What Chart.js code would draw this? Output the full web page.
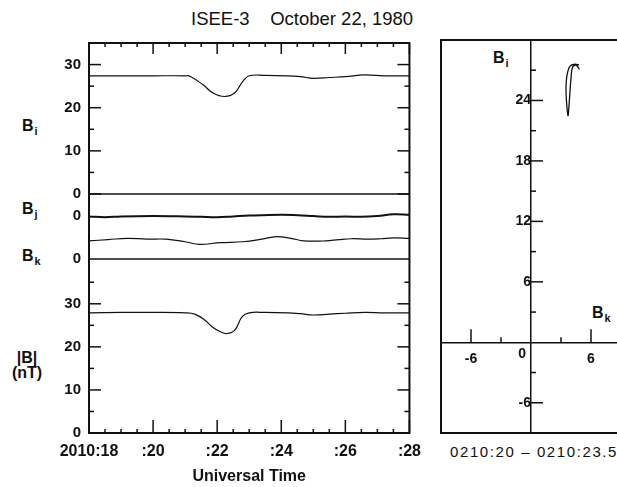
<!DOCTYPE html>
<html>
<head>
<meta charset="utf-8">
<script src="https://cdn.jsdelivr.net/npm/chart.js@4.4.0/dist/chart.umd.min.js"></script>
<style>
html, body { margin: 0; padding: 0; background: #fff; overflow: hidden; width: 617px; height: 487px; }
body { position: relative; font-family: "Liberation Sans", Arial, sans-serif; color: #111; }
canvas { position: absolute; top: 0; }
.lbl { position: absolute; line-height: 1; white-space: pre; color: #111; }
.b { font-weight: bold; font-size: 16px; }
.b sub { font-size: 11px; vertical-align: -4px; margin-left: 1px; }
</style>
</head>
<body>
<div class="lbl" style="left:191px;top:10px;font-size:18.5px;">ISEE-3    October 22, 1980</div>

<div class="lbl b" style="left:22px;top:118px;">B<sub>i</sub></div>
<div class="lbl b" style="left:22px;top:201px;">B<sub>j</sub></div>
<div class="lbl b" style="left:22px;top:248px;">B<sub>k</sub></div>
<div class="lbl b" style="left:0;width:54px;top:350px;text-align:center;line-height:15px;">|B|<br>(nT)</div>

<div class="lbl b" style="left:493px;top:50px;">B<sub>i</sub></div>
<div class="lbl b" style="left:592px;top:305px;">B<sub>k</sub></div>
<div class="lbl" style="left:450px;top:444px;font-size:15px;letter-spacing:1.6px;">0210:20 – 0210:23.5</div>

<canvas id="seriesChart" width="430" height="487" style="left:0"></canvas>
<canvas id="hodoChart" width="210" height="487" style="left:430px"></canvas>

<script>
// ---- time series, minutes after 2010 UT ----
const TIME_BI = [18, 19, 20, 21, 21.15, 21.56, 21.87, 22.23, 22.54, 22.8, 23.0, 23.5, 24.2, 24.6, 25.0, 25.5, 26.0, 26.6, 27.2, 28];
const BI      = [27.4, 27.4, 27.4, 27.4, 27.3, 25.3, 23.4, 22.6, 23.4, 26.1, 27.4, 27.5, 27.4, 27.2, 26.8, 27.0, 27.2, 27.6, 27.4, 27.4];

const TIME_BJ = [18, 18.5, 19, 20, 21, 21.5, 22, 22.5, 23, 24, 24.5, 25, 25.5, 26, 26.5, 27, 27.5, 28];
const BJ      = [-0.1, -0.3, -0.1, 0, -0.1, -0.2, -0.3, -0.1, 0.1, 0.3, 0.2, 0, -0.2, -0.1, -0.2, 0, 0.4, 0.3];

const TIME_BK = [18, 18.6, 19.2, 19.8, 20.4, 21.0, 21.45, 22.1, 22.8, 23.4, 23.85, 24.3, 24.7, 25.4, 25.8, 26.2, 26.7, 27.1, 27.5, 28];
const BK      = [4.2, 4.5, 4.8, 4.6, 4.6, 4.0, 3.4, 3.8, 4.0, 4.6, 5.2, 4.8, 4.2, 4.2, 4.5, 4.7, 4.6, 4.7, 4.9, 4.8];

const TIME_B = [18, 19, 20, 21, 21.3, 21.6, 21.85, 22.1, 22.3, 22.55, 22.78, 23.0, 23.5, 24.2, 24.6, 25.0, 25.5, 26.0, 26.6, 27.2, 28];
const BMAG   = [27.9, 28.0, 28.0, 27.9, 27.6, 26.3, 24.6, 23.5, 23.1, 23.9, 27.0, 27.9, 28.0, 27.9, 27.7, 27.4, 27.6, 27.8, 28.0, 27.9, 27.9];

// ---- hodogram 0210:20 - 0210:23.5 ----
const HODO_BK = [4.8, 4.4, 3.9, 3.6, 3.5, 3.55, 3.7, 3.8, 3.9, 4.0, 4.15, 4.5, 4.85];
const HODO_BI = [27.5, 27.6, 27.4, 26.5, 25.2, 23.9, 22.5, 23.5, 24.9, 26.2, 27.3, 27.5, 27.1];

// ---- tick values ----
const TIME_TICKS = [18, 20, 22, 24, 26, 28];
const TIME_MINOR = [18.5, 19, 19.5, 20.5, 21, 21.5, 22.5, 23, 23.5, 24.5, 25, 25.5, 26.5, 27, 27.5];
const FIELD_TICKS = [0, 10, 20, 30];
const BI_MINOR = [5, 15, 25];
const B_MINOR = [5, 15, 25, 35];
const HODO_BI_TICKS = [-6, 6, 12, 18, 24];
const HODO_BI_MINOR = [-3, 3, 9, 15, 21, 27];
const HODO_BK_TICKS = [-6, 6];
const HODO_BK_MINOR = [-3, 3];

// axis ranges
const BI_RANGE = [0, 35];
const BJ_RANGE = [-5.1, 5.1];
const BK_RANGE = [0, 4.87];
const B_RANGE = [0, 40.4];

const INK = "#111";
const FONT = "'Liberation Sans', Arial, sans-serif";

function pts(xs, ys) {
    return xs.map((x, i) => ({x: x, y: ys[i]}));
}

function seg(ctx, x1, y1, x2, y2) {
    ctx.beginPath();
    ctx.moveTo(x1, y1);
    ctx.lineTo(x2, y2);
    ctx.stroke();
}

/* frame, zero lines and inward tick marks for the time series */
const seriesFrame = {
    id: "seriesFrame",
    afterDatasetsDraw(chart) {
        const {ctx, chartArea: a, scales} = chart;
        ctx.save();
        ctx.strokeStyle = INK;
        ctx.lineWidth = 1.5;
        seg(ctx, a.left, scales.yBi.getPixelForValue(0), a.right, scales.yBi.getPixelForValue(0));
        seg(ctx, a.left, scales.yBk.getPixelForValue(0), a.right, scales.yBk.getPixelForValue(0));

        [["yBi", BI_MINOR], ["yB", B_MINOR]].forEach(([id, minor]) => {
            FIELD_TICKS.forEach(v => {
                const y = scales[id].getPixelForValue(v);
                seg(ctx, a.left, y, a.left + 12, y);
                seg(ctx, a.right - 12, y, a.right, y);
            });
            minor.forEach(v => {
                const y = scales[id].getPixelForValue(v);
                seg(ctx, a.left, y, a.left + 5, y);
                seg(ctx, a.right - 5, y, a.right, y);
            });
        });

        TIME_TICKS.forEach(t => {
            const x = scales.x.getPixelForValue(t);
            seg(ctx, x, a.top, x, a.top + 11);
            seg(ctx, x, a.bottom, x, a.bottom - 13);
        });
        TIME_MINOR.forEach(t => {
            const x = scales.x.getPixelForValue(t);
            seg(ctx, x, a.top, x, a.top + 4);
            seg(ctx, x, a.bottom, x, a.bottom - 4);
        });

        ctx.lineWidth = 2;
        ctx.strokeRect(a.left, a.top, a.right - a.left, a.bottom - a.top);
        ctx.restore();
    }
};

function stackedAxis(weight, range, ticks) {
    return {
        type: "linear",
        position: "left",
        stack: "field",
        stackWeight: weight,
        min: range[0],
        max: range[1],
        grid: { display: false, drawTicks: false },
        border: { display: false },
        afterFit: s => { s.width = 89; },
        afterBuildTicks: s => { s.ticks = ticks.map(v => ({value: v})); },
        ticks: { padding: 8, autoSkip: false, color: INK, font: { family: FONT, size: 15, weight: "bold" } }
    };
}

function lineSet(data, axis, width) {
    return {
        data: data,
        yAxisID: axis,
        borderColor: INK,
        borderWidth: width,
        pointRadius: 0,
        tension: 0.4,
        fill: false,
        clip: 25   // stacked panels share one frame, let a trace run past its own strip
    };
}

new Chart(document.getElementById("seriesChart"), {
    type: "line",
    data: {
        datasets: [
            lineSet(pts(TIME_BI, BI), "yBi", 1.2),
            lineSet(pts(TIME_BJ, BJ), "yBj", 2),
            lineSet(pts(TIME_BK, BK), "yBk", 1.2),
            lineSet(pts(TIME_B, BMAG), "yB", 1.2)
        ]
    },
    options: {
        responsive: false,
        animation: false,
        layout: { padding: { left: 0, right: 18, top: 43, bottom: 0 } },
        plugins: { legend: { display: false }, tooltip: { enabled: false } },
        scales: {
            x: {
                type: "linear",
                position: "bottom",
                min: 18,
                max: 28,
                grid: { display: false, drawTicks: false },
                border: { display: false },
                afterFit: s => { s.height = 54; },
                afterBuildTicks: s => { s.ticks = TIME_TICKS.map(v => ({value: v})); },
                ticks: {
                    padding: 9, autoSkip: false, maxRotation: 0, color: INK,
                    font: { family: FONT, size: 16, weight: "bold" },
                    callback: v => v === 18 ? "2010:18" : ":" + v
                },
                title: {
                    display: true, text: "Universal Time", color: INK,
                    padding: { top: 0, bottom: 1 },
                    font: { family: FONT, size: 16, weight: "bold" }
                }
            },
            // first defined sits at the bottom of the stack
            yB: stackedAxis(174, B_RANGE, FIELD_TICKS),
            yBk: stackedAxis(21, BK_RANGE, [0]),
            yBj: stackedAxis(44, BJ_RANGE, [0]),
            yBi: stackedAxis(151, BI_RANGE, FIELD_TICKS)
        }
    },
    plugins: [seriesFrame]
});

/* frame, tick marks and origin label for the hodogram */
const hodoFrame = {
    id: "hodoFrame",
    afterDatasetsDraw(chart) {
        const {ctx, chartArea: a, scales} = chart;
        const x0 = scales.x.getPixelForValue(0);
        const y0 = scales.y.getPixelForValue(0);
        ctx.save();
        ctx.strokeStyle = INK;
        ctx.lineWidth = 1.5;
        HODO_BI_TICKS.forEach(v => { const y = scales.y.getPixelForValue(v); seg(ctx, x0, y, x0 + 12, y); });
        HODO_BI_MINOR.forEach(v => { const y = scales.y.getPixelForValue(v); seg(ctx, x0, y, x0 + 5, y); });
        HODO_BK_TICKS.forEach(v => { const x = scales.x.getPixelForValue(v); seg(ctx, x, y0, x, y0 - 13); });
        HODO_BK_MINOR.forEach(v => { const x = scales.x.getPixelForValue(v); seg(ctx, x, y0, x, y0 - 5); });
        ctx.lineWidth = 2;
        ctx.strokeRect(a.left, a.top, a.right - a.left, a.bottom - a.top);
        ctx.fillStyle = INK;
        ctx.font = "bold 14px " + FONT;
        ctx.textAlign = "right";
        ctx.textBaseline = "middle";
        ctx.fillText("0", x0 - 5, y0 + 12);
        ctx.restore();
    }
};

function hodoAxis(range, pos, ticks, padding) {
    return {
        type: "linear",
        min: range[0],
        max: range[1],
        position: pos,
        grid: { display: false, drawTicks: false },
        border: { color: INK, width: 1.5 },
        afterBuildTicks: s => { s.ticks = ticks.map(v => ({value: v})); },
        ticks: { padding: padding, autoSkip: false, maxRotation: 0, color: INK, font: { family: FONT, size: 14, weight: "bold" } }
    };
}

new Chart(document.getElementById("hodoChart"), {
    type: "scatter",
    data: {
        datasets: [{
            data: pts(HODO_BK, HODO_BI),
            showLine: true,
            borderColor: INK,
            borderWidth: 1.3,
            pointRadius: 0,
            tension: 0.35
        }]
    },
    options: {
        responsive: false,
        animation: false,
        layout: { padding: { left: 11, right: 19, top: 40, bottom: 54 } },
        plugins: { legend: { display: false }, tooltip: { enabled: false } },
        scales: {
            x: hodoAxis([-9, 9], { y: 0 }, HODO_BK_TICKS, 8),
            y: hodoAxis([-9, 30], { x: 0 }, HODO_BI_TICKS, 8)
        }
    },
    plugins: [hodoFrame]
});
</script>
</body>
</html>
